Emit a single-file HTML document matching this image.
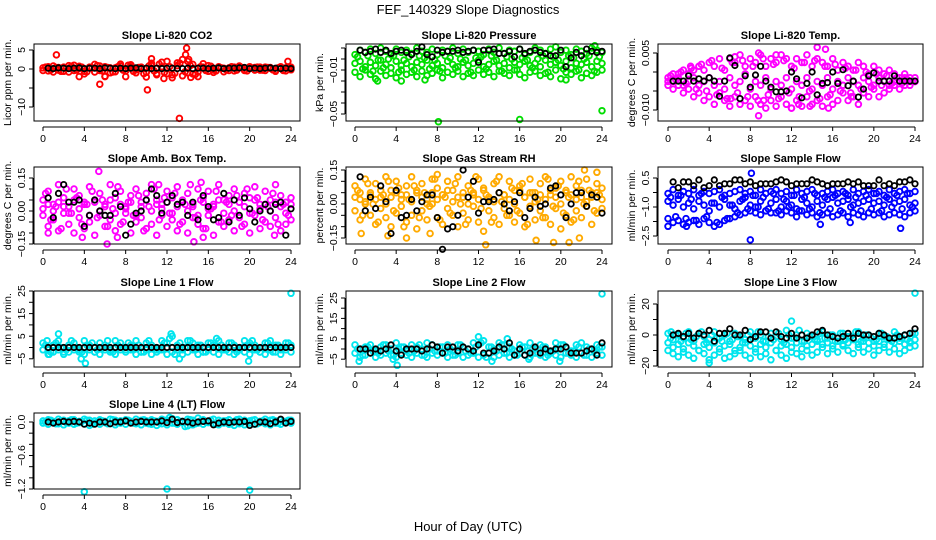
<!DOCTYPE html>
<html><head><meta charset="utf-8">
<style>
html,body{margin:0;padding:0;background:#fff;}
svg{display:block;font-family:"Liberation Sans",Arial,sans-serif;}
</style></head>
<body>
<svg id="chart" width="936" height="540" viewBox="0 0 936 540" xmlns="http://www.w3.org/2000/svg">
<rect x="0" y="0" width="936" height="540" fill="#fff"/>
<text x="468" y="14" text-anchor="middle" font-size="13">FEF_140329  Slope Diagnostics</text>
<text x="468" y="531" text-anchor="middle" font-size="13">Hour of Day (UTC)</text>
</svg>
<script>
// shared hour categories
const hours = [0,0.5,1,1.5,2,2.5,3,3.5,4,4.5,5,5.5,6,6.5,7,7.5,8,8.5,9,9.5,10,10.5,11,11.5,12,12.5,13,13.5,14,14.5,15,15.5,16,16.5,17,17.5,18,18.5,19,19.5,20,20.5,21,21.5,22,22.5,23,23.5,24];
const hoursMid = [0.25,0.75,1.25,1.75,2.25,2.75,3.25,3.75,4.25,4.75,5.25,5.75,6.25,6.75,7.25,7.75,8.25,8.75,9.25,9.75,10.25,10.75,11.25,11.75,12.25,12.75,13.25,13.75,14.25,14.75,15.25,15.75,16.25,16.75,17.25,17.75,18.25,18.75,19.25,19.75,20.25,20.75,21.25,21.75,22.25,22.75,23.25,23.75];
const blackHours = [0.5,1,1.5,2,2.5,3,3.5,4,4.5,5,5.5,6,6.5,7,7.5,8,8.5,9,9.5,10,10.5,11,11.5,12,12.5,13,13.5,14,14.5,15,15.5,16,16.5,17,17.5,18,18.5,19,19.5,20,20.5,21,21.5,22,22.5,23,23.5,24];
const xTicks = [0,4,8,12,16,20,24];

// Panel 1: CO2
const co2A = [0.3,-0.5,0.8,-0.3,0.5,-0.8,1.0,0.2,-0.6,0.4,1.2,-0.4,0.6,-1,0.3,0.8,-0.5,1.1,-0.2,0.4,-0.9,1.5,-1.2,0.6,2.0,-1.5,0.9,2.5,-1.0,1.2,-0.8,0.5,0.9,-0.3,0.6,0.2,-0.4,0.5,0.8,-0.2,0.3,0.4,-0.3,0.5,0.2,-0.4,0.6,0.3,-0.2];
const co2B = [-0.4,0.6,-0.8,0.4,-0.6,0.9,-0.4,0.7,-1.3,0.5,-0.8,0.8,-1.9,0.3,-0.7,1.3,-2.0,0.6,-1.0,0.5,-2.1,0.9,-1.5,1.8,-1.2,-2.3,1.6,-1.8,2.0,-1.3,-2.0,1.4,-0.6,-0.9,0.5,-0.7,0.3,-0.5,0.7,-0.4,0.6,-0.3,0.5,-0.4,0.4,-0.6,0.3,-0.5,0.5];
const co2C = [0.5,-0.2,0.4,-0.6,0.2,0.7,-0.3,0.5,-0.7,0.3,0.9,-0.5,0.4,-0.8,0.6,-0.3,1.0,-0.6,0.4,-1.2,0.8,-0.5,1.3,-0.9,0.6,-1.1,1.5,-0.7,0.9,-1.4,0.6,-0.4,0.7,-0.5,0.3,-0.2,0.6,-0.3,0.4,-0.5,0.2,0.5,-0.3,0.4,-0.2,0.3,-0.4,0.2];
const co2OutH = [1.3,5.5,10.1,13.2,13.8,13.9,14.1,23.7,6,3.5,11.7,14.3,10.5];
const co2OutV = [3.7,-4,-5.5,-13,3.8,5.5,2.5,2.0,-2,-2,-2.5,-2.2,2.7];
const co2Black = [0.2,0.1,0.3,0.2,0.1,0.2,0.3,0.1,0.2,0.2,0.1,0.3,0.2,0.1,0.2,0.1,0.2,0.3,0.1,0.2,0.1,0.2,0.1,0.2,0.2,0.1,0.1,0.2,0.1,0.2,0.2,0.1,0.2,0.3,0.1,0.2,0.2,0.3,0.4,0.1,0.2,0.1,0.2,0.3,0.2,0.1,0.2,0.1];

// Panel 2: Pressure
const presA = [0.004,0.008,0.006,0.009,0.005,0.010,0.007,0.004,0.009,0.006,0.008,0.005,0.010,0.007,0.006,0.009,0.004,0.008,0.007,0.010,0.005,0.009,0.006,0.008,0.007,0.004,0.009,0.006,0.010,0.005,0.008,0.007,0.009,0.004,0.006,0.010,0.008,0.005,0.009,0.011,0.006,0.008,0.004,0.009,0.007,0.005,0.010,0.008,0.006];
const presB = [-0.004,-0.002,-0.007,-0.003,-0.006,-0.001,-0.005,-0.008,-0.002,-0.006,-0.004,-0.007,-0.003,-0.005,-0.001,-0.006,-0.004,-0.008,-0.002,-0.005,-0.007,-0.003,-0.006,-0.004,-0.001,-0.007,-0.005,-0.002,-0.006,-0.004,-0.008,-0.003,-0.005,-0.002,-0.006,-0.004,-0.007,-0.001,-0.005,-0.003,-0.006,-0.002,-0.008,-0.004,-0.005,-0.003,-0.007,-0.002,-0.004];
const presC = [-0.012,-0.016,-0.010,-0.014,-0.018,-0.011,-0.015,-0.013,-0.017,-0.010,-0.014,-0.012,-0.016,-0.011,-0.015,-0.013,-0.010,-0.017,-0.012,-0.014,-0.011,-0.016,-0.013,-0.015,-0.010,-0.014,-0.012,-0.016,-0.011,-0.013,-0.015,-0.010,-0.014,-0.017,-0.012,-0.011,-0.015,-0.013,-0.016,-0.010,-0.018,-0.012,-0.014,-0.011,-0.017,-0.013,-0.015,-0.012,-0.010];
const presD = [0.002,-0.009,0.003,-0.011,-0.001,-0.008,0.000,0.003,-0.012,-0.001,0.002,-0.010,0.003,0.001,-0.009,-0.001,-0.011,0.003,0.001,-0.008,0.000,-0.001,-0.012,0.001,0.002,-0.009,0.003,-0.001,-0.011,0.002,0.000,-0.010,0.001,-0.001,-0.008,0.000,0.003,-0.012,0.002,-0.001,-0.009,0.003,0.001,-0.010,0.000,0.003,-0.011,0.002];
const presOutH = [8.1,16,24,23.3,6.8,2.2,4.5,20.5];
const presOutV = [-0.057,-0.055,-0.047,0.012,-0.019,-0.020,-0.020,-0.019];
const presBlack = [0.008,0.006,0.007,0.009,0.006,0.008,0.005,0.007,0.008,0.006,0.004,0.007,0.011,0.004,0.002,0.008,0.006,0.007,0.007,0.008,0.006,0.007,0.008,-0.003,0.008,0.008,0.009,0.005,0.005,0.007,0.002,0.009,0.005,0.007,0.008,0.006,0.005,0.003,0.003,0.008,-0.007,0.001,0.006,0.003,0.009,0.007,0.006,0.007];

// Panel 3: Li-820 Temp
const tempA = [-0.0015,-0.0005,-0.0005,0.0005,-0.0005,0.0005,0.0015,0.0005,0.0025,0.0015,0.0035,0.0005,0.0035,0.0025,0.0045,0.0015,0.0035,0.0025,0.0045,0.0015,0.0035,0.0025,0.0045,0.0035,0.0015,0.0035,0.0025,0.0045,0.0015,0.0035,0.0025,0.0015,0.0035,0.0005,0.0025,0.0015,0.0005,0.0025,0.0015,-0.0005,0.0015,0.0005,-0.0005,0.0005,-0.0005,-0.0015,-0.0005,-0.0015,-0.0015];
const tempB = [-0.0035,-0.0045,-0.0035,-0.0055,-0.0045,-0.0065,-0.0055,-0.0075,-0.0065,-0.0085,-0.0055,-0.0075,-0.0090,-0.0065,-0.0085,-0.0075,-0.0090,-0.0065,-0.0085,-0.0095,-0.0075,-0.0090,-0.0065,-0.0085,-0.0095,-0.0075,-0.0090,-0.0065,-0.0085,-0.0075,-0.0090,-0.0065,-0.0085,-0.0075,-0.0055,-0.0075,-0.0065,-0.0085,-0.0055,-0.0065,-0.0045,-0.0065,-0.0055,-0.0045,-0.0035,-0.0045,-0.0035,-0.0035,-0.0025];
const tempC = [-0.0025,-0.0025,-0.0015,-0.0035,-0.0025,-0.0015,-0.0035,-0.0025,-0.0015,-0.0035,-0.0025,-0.0045,-0.0015,-0.0035,-0.0025,-0.0005,-0.0045,-0.0025,-0.0035,-0.0015,-0.0045,-0.0025,-0.0035,-0.0015,-0.0045,-0.0025,-0.0035,-0.0015,-0.0045,-0.0025,-0.0035,-0.0015,-0.0045,-0.0025,-0.0035,-0.0015,-0.0025,-0.0035,-0.0015,-0.0025,-0.0035,-0.0015,-0.0025,-0.0035,-0.0025,-0.0025,-0.0015,-0.0025,-0.0025];
const tempD = [-0.0010,-0.0020,0.0000,-0.0030,0.0010,-0.0045,0.0020,-0.0050,0.0030,-0.0060,0.0010,-0.0070,0.0025,-0.0055,0.0030,-0.0065,0.0015,-0.0075,0.0035,-0.0060,0.0020,-0.0070,0.0030,-0.0055,0.0010,-0.0065,0.0025,-0.0050,0.0030,-0.0070,0.0015,-0.0060,0.0020,-0.0050,0.0010,-0.0055,0.0005,-0.0045,0.0000,-0.0040,-0.0005,-0.0035,-0.0010,-0.0030,-0.0015,-0.0030,-0.0020,-0.0025];
const tempOutH = [8.8,12,13.8,15.6,14.5,15.3,8.8,10.5,6.1,12.7,2.2,17.8,6.5,9.3];
const tempOutV = [-0.0115,-0.0095,-0.0090,-0.0095,0.0065,0.0060,0.0050,0.0045,-0.0070,-0.0085,0.0015,-0.0065,0.0040,-0.0075];
const tempBlack = [-0.0024,-0.0024,-0.0024,-0.0010,-0.0024,-0.0018,-0.0024,-0.0015,-0.0024,-0.0064,-0.0024,0.0037,0.0017,-0.0070,-0.0010,-0.0040,-0.0008,0.0015,-0.0024,-0.0040,-0.0052,-0.0052,-0.0050,0.0000,-0.0018,-0.0068,-0.0030,0.0000,-0.0060,-0.0030,-0.0028,0.0000,-0.0030,0.0006,-0.0036,-0.0024,-0.0066,-0.0045,-0.0010,-0.0002,-0.0024,-0.0024,-0.0024,-0.0010,-0.0024,-0.0024,-0.0024,-0.0024];

// Panel 4: Amb Box Temp
const ambA = [0.05,0.09,0.03,0.12,0.06,0.02,0.10,0.07,0.04,0.11,0.05,0.08,0.03,0.12,0.06,0.09,0.02,0.07,0.10,0.04,0.08,0.12,0.05,0.03,0.09,0.06,0.11,0.04,0.08,0.02,0.10,0.06,0.09,0.03,0.12,0.05,0.07,0.10,0.04,0.08,0.06,0.11,0.03,0.09,0.05,0.12,0.07,0.04,0.06];
const ambB = [-0.02,-0.07,-0.04,-0.09,-0.01,-0.06,-0.10,-0.03,-0.08,-0.05,-0.11,-0.02,-0.07,-0.04,-0.09,-0.06,-0.01,-0.10,-0.05,-0.03,-0.08,-0.06,-0.11,-0.02,-0.07,-0.04,-0.09,-0.05,-0.10,-0.03,-0.06,-0.08,-0.02,-0.11,-0.05,-0.07,-0.04,-0.09,-0.03,-0.06,-0.10,-0.02,-0.08,-0.05,-0.07,-0.03,-0.09,-0.06,-0.04];
const ambC = [0.01,0.03,0.00,0.04,0.02,-0.01,0.05,0.01,0.03,-0.02,0.04,0.00,0.02,0.05,-0.01,0.03,0.01,0.04,-0.02,0.02,0.05,0.00,0.03,0.01,0.04,-0.01,0.02,0.05,0.00,0.03,-0.02,0.04,0.01,0.02,0.05,-0.01,0.03,0.00,0.04,0.02,-0.01,0.05,0.01,0.03,0.00,0.04,0.02,-0.01,0.03];
const ambD = [0.08,-0.04,0.02,-0.08,0.10,-0.01,0.06,-0.06,0.03,0.09,-0.03,0.05,-0.07,0.01,0.11,-0.05,0.04,-0.02,0.07,-0.09,0.02,0.10,-0.04,0.06,-0.01,0.08,-0.06,0.03,0.12,-0.03,0.05,-0.08,0.01,0.09,-0.05,0.04,-0.02,0.07,-0.07,0.10,-0.01,0.06,-0.04,0.02,0.08,-0.06,0.03,-0.02];
const ambOutH = [5.4,6.2,0.5,14.6,15.5,22.4,7.2,15.3,11.2,3.8];
const ambOutV = [0.18,-0.15,-0.10,-0.14,-0.12,-0.11,-0.12,0.13,0.12,-0.12];
const ambBlack = [0.06,-0.03,0.08,0.12,0.04,0.04,0.05,-0.07,-0.02,0.05,0.00,-0.02,-0.02,0.08,0.02,-0.11,-0.06,-0.01,0.00,0.05,0.10,0.07,-0.01,0.04,0.07,0.03,0.04,-0.02,0.04,-0.04,0.07,0.02,-0.04,-0.03,0.08,-0.05,0.05,-0.02,0.06,0.01,-0.05,0.00,0.03,0.00,0.03,0.04,-0.11,0.01];

// Panel 5: Gas Stream RH
const rhA = [0.08,0.02,0.11,0.05,0.09,0.03,0.12,0.06,0.10,0.04,0.08,0.12,0.05,0.09,0.02,0.11,0.07,0.04,0.10,0.06,0.12,0.03,0.08,0.05,0.11,0.07,0.02,0.09,0.12,0.04,0.10,0.06,0.08,0.03,0.11,0.05,0.09,0.12,0.04,0.07,0.10,0.06,0.12,0.08,0.03,0.11,0.05,0.09,0.07];
const rhB = [-0.03,-0.07,0.00,-0.05,-0.09,-0.02,-0.06,-0.10,-0.04,-0.01,-0.08,-0.05,-0.11,-0.03,-0.07,0.00,-0.06,-0.09,-0.02,-0.05,-0.10,-0.04,-0.07,-0.01,-0.08,-0.12,-0.03,-0.06,-0.09,-0.02,-0.05,-0.08,-0.04,-0.10,-0.01,-0.07,-0.03,-0.06,-0.09,-0.02,-0.11,-0.05,-0.08,-0.03,-0.06,-0.01,-0.09,-0.04,-0.02];
const rhC = [0.03,0.05,0.01,0.04,0.02,0.06,0.00,0.03,0.05,0.02,0.04,0.01,0.06,0.03,0.00,0.05,0.02,0.04,0.06,0.01,0.03,0.05,0.00,0.04,0.02,0.06,0.03,0.01,0.05,0.04,0.02,0.00,0.06,0.03,0.05,0.01,0.04,0.02,0.06,0.03,0.00,0.05,0.04,0.02,0.06,0.01,0.03,0.05,0.02];
const rhD = [0.06,-0.05,0.09,0.00,-0.08,0.04,0.10,-0.03,0.07,-0.10,0.02,0.08,-0.06,0.05,-0.01,0.11,-0.07,0.03,-0.04,0.09,0.00,-0.09,0.06,0.12,-0.02,0.04,-0.08,0.10,0.01,-0.05,0.07,-0.03,0.09,-0.09,0.05,0.02,-0.06,0.11,-0.01,0.08,-0.04,0.03,-0.07,0.10,0.00,0.06,-0.03,0.04];
const rhOutH = [0.6,3.2,5.0,7.3,8.0,12.7,17.6,19.3,20.8,22.3,23.5,21.8];
const rhOutV = [-0.13,-0.14,-0.15,-0.13,0.13,-0.18,-0.16,-0.17,-0.17,0.15,0.14,-0.15];
const rhBlack = [0.12,-0.03,0.03,-0.02,0.08,0.01,-0.13,0.06,-0.06,-0.05,0.02,-0.03,0.01,0.04,0.04,-0.06,-0.20,-0.11,-0.10,-0.05,0.15,0.03,0.10,-0.04,0.01,0.01,0.02,0.05,0.00,-0.03,0.01,0.05,-0.06,-0.02,0.03,-0.01,0.00,0.07,0.08,0.04,-0.06,0.00,0.05,0.05,-0.01,0.04,0.03,-0.04];

// Panel 6: Sample Flow
const sfA = [-0.3,-0.1,-0.4,-0.2,-0.3,-0.1,-0.4,-0.2,-0.3,-0.2,-0.1,-0.4,-0.3,-0.2,-0.1,-0.3,-0.2,-0.4,-0.1,-0.3,-0.2,-0.1,-0.3,-0.2,-0.4,-0.1,-0.3,-0.2,-0.1,-0.4,-0.3,-0.2,-0.1,-0.3,-0.2,-0.4,-0.1,-0.3,-0.2,-0.1,-0.3,-0.2,-0.4,-0.1,-0.3,-0.2,-0.1,-0.3,-0.2];
const sfB = [-0.7,-0.9,-0.6,-1.0,-0.8,-1.1,-0.7,-0.9,-1.2,-0.8,-1.0,-0.6,-0.9,-1.1,-0.7,-0.5,-0.9,-1.0,-0.7,-1.2,-0.8,-0.6,-1.0,-0.7,-0.9,-1.1,-0.6,-0.8,-1.0,-0.7,-0.9,-0.6,-0.5,-0.8,-0.7,-0.6,-0.9,-0.8,-0.7,-0.6,-0.8,-0.7,-0.9,-0.6,-0.8,-0.7,-0.6,-0.9,-0.8];
const sfC = [-1.6,-1.8,-1.7,-1.9,-1.8,-1.7,-1.9,-1.6,-1.8,-2.0,-1.9,-1.7,-1.6,-1.5,-1.4,-1.3,-1.2,-1.3,-1.4,-1.2,-1.3,-1.3,-1.4,-1.2,-1.3,-1.5,-1.2,-1.4,-1.3,-1.5,-1.4,-1.3,-1.5,-1.4,-1.3,-1.5,-1.3,-1.4,-1.5,-1.3,-1.4,-1.3,-1.5,-1.4,-1.3,-1.4,-1.5,-1.3,-1.2];
const sfD = [-0.5,-1.5,-0.4,-1.6,-0.6,-1.7,-0.3,-1.5,-0.8,-1.8,-0.5,-1.6,-0.9,-1.3,-0.6,-1.1,-0.4,-1.0,-0.5,-1.1,-0.3,-1.2,-0.6,-1.0,-0.4,-1.2,-0.5,-1.1,-0.3,-1.3,-0.5,-1.1,-0.4,-1.2,-0.3,-1.0,-0.5,-1.2,-0.4,-1.1,-0.3,-1.2,-0.5,-1.0,-0.4,-1.1,-0.3,-1.0];
const sfOutH = [0,8.1,8.0,14.8,22.6,1.8,17.7];
const sfOutV = [-2.0,0.75,-2.7,-1.9,-2.1,-2.0,-1.8];
const sfBlack = [0.3,0.0,0.3,0.3,0.1,0.4,0.0,0.1,0.4,0.1,0.2,0.2,0.4,0.4,0.2,0.3,0.1,0.2,0.2,0.2,0.3,0.4,0.3,0.1,0.2,0.2,0.2,0.4,0.3,0.2,0.1,0.2,0.2,0.2,0.3,0.2,0.3,0.1,0.1,0.1,0.4,0.1,0.2,0.1,0.3,0.3,0.4,0.2];

// Panel 7: Line 1 Flow
const l1A = [2,-1,1,3,-2,1,2,-1,3,1,-2,2,1,-1,3,2,-1,1,3,-2,2,1,-1,3,2,5,1,-1,3,2,1,-2,2,1,3,-1,2,1,-1,3,2,1,-2,2,3,1,-1,2,1];
const l1B = [-1,-3,-2,-1,-3,-2,-1,-2,-3,-1,-2,-3,-1,-2,-3,-1,-2,-1,-3,-2,-1,-3,-2,-1,-3,-2,-1,-3,-2,-1,-3,-2,-1,-2,-3,-1,-2,-3,-1,-2,-3,-1,-2,-3,-1,-2,-3,-1,-2];
const l1C = [1,-2,2,0,-1,3,0,-2,1,2,-1,0,3,-2,1,0,2,-1,1,-2,3,0,-1,2,4,-3,2,0,3,-1,1,-2,2,0,1,-1,2,-2,0,1,3,-1,0,2,-2,1,0,2];
const l1OutH = [24,1.5,3.7,4.1,19.9,13.2,12.4,16.8,0.4,0.6];
const l1OutV = [24,6,-5,-7,-6,-5,6,4,3,-3];
const l1Black = [0,0,0,0,0,0,0,0,0,0,0,0,0,0,0,0,0,0,0,0,0,0,0,0,0,0,0,0,0,0,0,0,0,0,0,0,0,0,0,0,0,0,0,0,0,0,0,0];

// Panel 8: Line 2 Flow
const l2A = [2,0,1,2,-1,1,2,0,3,1,-1,2,1,0,3,2,-1,1,2,-1,2,1,0,3,2,4,1,0,3,2,1,-1,2,1,3,0,2,1,-1,3,2,1,-1,2,3,1,0,2,1];
const l2B = [-2,-4,-3,-2,-4,-3,-2,-3,-4,-2,-3,-4,-2,-3,-4,-2,-3,-2,-4,-3,-2,-4,-3,-2,-4,-3,-2,-4,-3,-2,-4,-3,-2,-3,-4,-2,-3,-4,-2,-3,-4,-2,-3,-4,-2,-3,-4,-2,-3];
const l2C = [0,-3,1,-1,-2,2,-1,-3,0,1,-2,-1,2,-3,0,-1,1,-2,0,-3,2,-1,-2,1,3,-4,1,-1,2,-2,0,-3,1,-1,0,-2,1,-3,-1,0,2,-2,-1,1,-3,0,-1,1];
const l2OutH = [24,0.4,4.1,3.7,12,13.3,14.8,19.9,16.9];
const l2OutV = [27,-6,-8,-5,6,-6,5,-6,-5];
const l2Black = [0,0,-2,0,-1,0,2,-1,-3,0,0,0,-1,0,2,1,-2,1,1,-1,1,0,-1,2,-2,-2,-1,1,0,3,-3,0,-3,-2,1,-2,0,-1,0,0,1,-2,-2,-2,-1,0,-3,3];

// Panel 9: Line 3 Flow
const l3A = [1,-3,0,-2,2,-4,1,-1,-3,2,-2,0,-4,1,-1,-3,2,-2,0,-4,1,-1,-3,3,-2,0,-4,1,-1,-3,2,-2,0,-4,1,-1,-3,2,-2,0,-4,1,-1,-3,2,-2,0,-4,1];
const l3B = [-10,-12,-14,-11,-13,-15,-10,-12,-16,-13,-11,-15,-14,-12,-10,-13,-15,-11,-14,-12,-16,-10,-13,-15,-11,-12,-14,-10,-13,-11,-8,-12,-9,-11,-7,-10,-12,-8,-11,-9,-13,-10,-8,-11,-9,-12,-10,-8,-7];
const l3C = [-5,-8,-6,-9,-5,-7,-10,-6,-8,-5,-9,-7,-6,-10,-8,-5,-7,-9,-6,-8,-5,-10,-7,-6,-8,-5,-9,-7,-6,-4,-6,-5,-7,-4,-6,-5,-3,-6,-4,-5,-7,-4,-6,-3,-5,-4,-6,-5,-3];
const l3D = [-2,0,-4,1,-3,-1,2,-5,0,-2,-4,1,-3,-1,-5,0,-2,2,-4,-1,-3,1,-5,0,-2,3,-4,-1,-3,1,-2,0,-4,1,-3,-1,2,-4,0,-2,-3,1,-1,-4,0,-2,-3,1];
const l3OutH = [24,4,12,0.3];
const l3OutV = [27,-18,9,2];
const l3Black = [0,1,-1,1,-2,1,0,3,-4,1,1,4,0,0,3,-3,-1,2,2,-2,2,-1,-2,1,-2,0,-2,0,2,3,0,-1,-2,-1,1,-2,1,0,0,-1,1,0,-2,-2,-1,0,1,4];

// Panel 10: Line 4 (LT) Flow
const l4A = [0.02,0.04,0.01,0.05,0.03,0.02,0.04,0.01,0.05,0.03,0.02,0.04,0.01,0.05,0.03,0.02,0.04,0.01,0.05,0.03,0.02,0.04,0.01,0.05,0.03,0.06,0.04,0.01,0.05,0.03,0.07,0.04,0.01,0.05,0.03,0.02,0.04,0.01,0.05,0.03,0.02,0.04,0.01,0.05,0.03,0.02,0.04,0.01,0.03];
const l4B = [-0.02,-0.04,-0.01,-0.03,-0.05,-0.02,-0.04,-0.01,-0.03,-0.06,-0.02,-0.04,-0.01,-0.03,-0.05,-0.02,-0.04,-0.01,-0.03,-0.05,-0.02,-0.04,-0.06,-0.03,-0.05,-0.02,-0.04,-0.01,-0.07,-0.05,-0.02,-0.04,-0.01,-0.03,-0.05,-0.02,-0.04,-0.06,-0.03,-0.05,-0.02,-0.04,-0.01,-0.03,-0.05,-0.02,-0.04,-0.01,-0.02];
const l4C = [0.00,0.03,-0.03,0.02,-0.01,0.04,-0.02,0.01,0.03,-0.04,0.00,0.02,-0.03,0.04,-0.01,0.01,0.03,-0.02,0.00,0.04,-0.03,0.02,-0.01,0.03,0.08,-0.02,0.01,-0.08,0.04,-0.03,0.02,0.00,0.03,-0.04,0.01,0.02,-0.02,0.04,-0.01,0.00,0.03,-0.03,0.02,-0.01,0.04,-0.02,0.01,0.03];
const l4OutH = [4,12,20];
const l4OutV = [-1.25,-1.2,-1.22];
const l4Black = [0.0,-0.02,0.0,0.01,0.0,0.01,0.0,-0.04,-0.02,-0.04,0.0,0.0,-0.03,0.0,0.0,0.02,-0.02,0.0,0.01,0.0,0.0,0.0,0.02,-0.01,0.05,-0.01,0.01,0.0,-0.02,0.0,0.01,0.02,-0.05,-0.02,0.0,-0.01,0.0,0.0,0.01,-0.06,-0.04,0.0,0.0,-0.03,0.0,0.05,-0.02,0.01];

// Layout
const cols = [{l:34,r:300,x0:43,x24:291},{l:346,r:612,x0:355,x24:602},{l:658,r:923,x0:668,x24:915}];
const rows = [{t:44,b:121},{t:167,b:244},{t:291,b:367},{t:413,b:489}];

const panels = [
 {key:'co2',title:'Slope Li-820 CO2',ylab:'Licor ppm per min.',col:0,row:0,color:'#ff0000',
  series:[[hours,co2A],[hours,co2B],[hoursMid,co2C]],outH:co2OutH,outV:co2OutV,black:co2Black,
  ya:{v0:0,p0:69,v1:-10,p1:107},ticks:[5,0,-5,-10],labels:[5,0,-10],lab:v=>v===-10?'\u221210':String(v)},
 {key:'pressure',title:'Slope Li-820 Pressure',ylab:'kPa per min.',col:1,row:0,color:'#00dd00',
  series:[[hours,presA],[hours,presB],[hours,presC],[hoursMid,presD]],outH:presOutH,outV:presOutV,black:presBlack,
  ya:{v0:0,p0:59,v1:-0.05,p1:114},ticks:[0.01,0,-0.01,-0.02,-0.03,-0.04,-0.05],labels:[-0.01,-0.05],lab:v=>'\u2212'+Math.abs(v).toFixed(2)},
 {key:'li820-temp',title:'Slope Li-820 Temp.',ylab:'degrees C per min.',col:2,row:0,color:'#ff00ff',
  series:[[hours,tempA],[hours,tempB],[hours,tempC],[hoursMid,tempD]],outH:tempOutH,outV:tempOutV,black:tempBlack,
  ya:{v0:0.005,p0:53,v1:-0.010,p1:110},ticks:[0.005,0,-0.005,-0.010],labels:[0.005,-0.010],lab:v=>v<0?'\u22120.010':'0.005'},
 {key:'amb-temp',title:'Slope Amb. Box Temp.',ylab:'degrees C per min.',col:0,row:1,color:'#ff00ff',
  series:[[hours,ambA],[hours,ambB],[hours,ambC],[hoursMid,ambD]],outH:ambOutH,outV:ambOutV,black:ambBlack,
  ya:{v0:0,p0:211,v1:0.15,p1:178},ticks:[0.15,0.10,0.05,0,-0.05,-0.10,-0.15],labels:[0.15,0,-0.15],lab:v=>v<0?'\u22120.15':v.toFixed(2)},
 {key:'rh',title:'Slope Gas Stream RH',ylab:'percent per min.',col:1,row:1,color:'#ffaa00',
  series:[[hours,rhA],[hours,rhB],[hours,rhC],[hoursMid,rhD]],outH:rhOutH,outV:rhOutV,black:rhBlack,
  ya:{v0:0,p0:204,v1:0.15,p1:170},ticks:[0.15,0.10,0.05,0,-0.05,-0.10,-0.15],labels:[0.15,0,-0.15],lab:v=>v<0?'\u22120.15':v.toFixed(2)},
 {key:'sample-flow',title:'Slope Sample Flow',ylab:'ml/min per min.',col:2,row:1,color:'#0000ff',
  series:[[hours,sfA],[hours,sfB],[hours,sfC],[hoursMid,sfD]],outH:sfOutH,outV:sfOutV,black:sfBlack,
  ya:{v0:0.5,p0:178,v1:-2.5,p1:236},ticks:[0.5,-0.25,-1.0,-1.75,-2.5],labels:[0.5,-1.0,-2.5],lab:v=>v<0?'\u2212'+Math.abs(v).toFixed(1):v.toFixed(1)},
 {key:'line1-flow',title:'Slope Line 1 Flow',ylab:'ml/min per min.',col:0,row:2,color:'#00e5ee',
  series:[[hours,l1A],[hours,l1B],[hoursMid,l1C]],outH:l1OutH,outV:l1OutV,black:l1Black,
  ya:{v0:0,p0:347.5,v1:25,p1:291},ticks:[25,20,15,10,5,0,-5],labels:[25,15,5,-5],lab:v=>v<0?'\u22125':String(v)},
 {key:'line2-flow',title:'Slope Line 2 Flow',ylab:'ml/min per min.',col:1,row:2,color:'#00e5ee',
  series:[[hours,l2A],[hours,l2B],[hoursMid,l2C]],outH:l2OutH,outV:l2OutV,black:l2Black,
  ya:{v0:0,p0:349,v1:25,p1:298},ticks:[25,20,15,10,5,0,-5],labels:[25,15,5,-5],lab:v=>v<0?'\u22125':String(v)},
 {key:'line3-flow',title:'Slope Line 3 Flow',ylab:'ml/min per min.',col:2,row:2,color:'#00e5ee',
  series:[[hours,l3A],[hours,l3B],[hours,l3C],[hoursMid,l3D]],outH:l3OutH,outV:l3OutV,black:l3Black,
  ya:{v0:0,p0:335,v1:20,p1:304},ticks:[20,10,0,-10,-20],labels:[20,0,-20],lab:v=>v<0?'\u221220':String(v)},
 {key:'line4-flow',title:'Slope Line 4 (LT) Flow',ylab:'ml/min per min.',col:0,row:3,color:'#00e5ee',
  series:[[hours,l4A],[hours,l4B],[hoursMid,l4C]],outH:l4OutH,outV:l4OutV,black:l4Black,
  ya:{v0:0,p0:422,v1:-1.2,p1:489},ticks:[0,-0.2,-0.4,-0.6,-0.8,-1.0,-1.2],labels:[0,-0.6,-1.2],lab:v=>v===0?'0.0':'\u2212'+Math.abs(v).toFixed(1)}
];

const NS='http://www.w3.org/2000/svg';
const svg=document.getElementById('chart');
function mk(tag,attrs,parent){const e=document.createElementNS(NS,tag);for(const k in attrs)e.setAttribute(k,attrs[k]);(parent||svg).appendChild(e);return e;}

panels.forEach(p=>{
  const c=cols[p.col], r=rows[p.row];
  const xs=h=>c.x0+(h/24)*(c.x24-c.x0);
  const ys=v=>p.ya.p0+(v-p.ya.v0)*(p.ya.p1-p.ya.p0)/(p.ya.v1-p.ya.v0);
  const g=mk('g',{});
  
  
  const t=mk('text',{x:(c.l+c.r)/2,y:r.t-5,'text-anchor':'middle','font-size':'11','font-weight':'bold'},g);
  t.textContent=p.title;
  
  
  const pts=mk('g',{fill:'none'},g);
  
  
  p.series.forEach(s=>{
    const hh=s[0], vals=s[1];
    vals.forEach((v,i)=>{
      const ci=mk('circle',{cx:xs(hh[i]).toFixed(1),cy:ys(v).toFixed(1),r:2.8,stroke:p.color,'stroke-width':1.9},pts);
      
      
    });
  });
  p.outV.forEach((v,i)=>{
    const ci=mk('circle',{cx:xs(p.outH[i]).toFixed(1),cy:ys(v).toFixed(1),r:2.8,stroke:p.color,'stroke-width':1.9},pts);
    
    
  });
  p.black.forEach((v,i)=>{
    const ci=mk('circle',{cx:xs(blackHours[i]).toFixed(1),cy:ys(v).toFixed(1),r:2.7,stroke:'#000','stroke-width':1.8},pts);
    
    
  });
  const box=mk('rect',{x:c.l,y:r.t,width:c.r-c.l,height:r.b-r.t,fill:'none',stroke:'#000','stroke-width':1},g);
  
  
  const ax=mk('g',{stroke:'#000','stroke-width':1},g);
  
  
  const ay0=r.b+6;
  mk('line',{x1:xs(xTicks[0]),x2:xs(xTicks[xTicks.length-1]),y1:ay0,y2:ay0},ax);
  xTicks.forEach(h=>{
    mk('line',{x1:xs(h),x2:xs(h),y1:ay0,y2:ay0+4},ax);
    const tl=mk('text',{x:xs(h),y:r.b+21,'text-anchor':'middle','font-size':'10.5',stroke:'none',fill:'#000'},g);
    tl.textContent=String(h);
    
    
  });
  const yg=mk('g',{stroke:'#000','stroke-width':1},g);
  
  
  const tk=p.ticks;
  mk('line',{x1:c.l-1,x2:c.l-1,y1:ys(tk[0]),y2:ys(tk[tk.length-1])},yg);
  tk.forEach(v=>{ mk('line',{x1:c.l-5,x2:c.l-1,y1:ys(v),y2:ys(v)},yg); });
  p.labels.forEach(v=>{
    const yy=ys(v), xx=c.l-9;
    const tl=mk('text',{x:xx,y:yy,'text-anchor':'middle','font-size':'10.5',transform:`rotate(-90 ${xx} ${yy})`},g);
    tl.textContent=p.lab(v);
    
    
  });
  const yx=c.l-23, yy=(r.t+r.b)/2;
  const yt=mk('text',{x:yx,y:yy,'text-anchor':'middle','font-size':'10.5',transform:`rotate(-90 ${yx} ${yy})`},g);
  yt.textContent=p.ylab;
  
  
});
</script>
</body></html>
